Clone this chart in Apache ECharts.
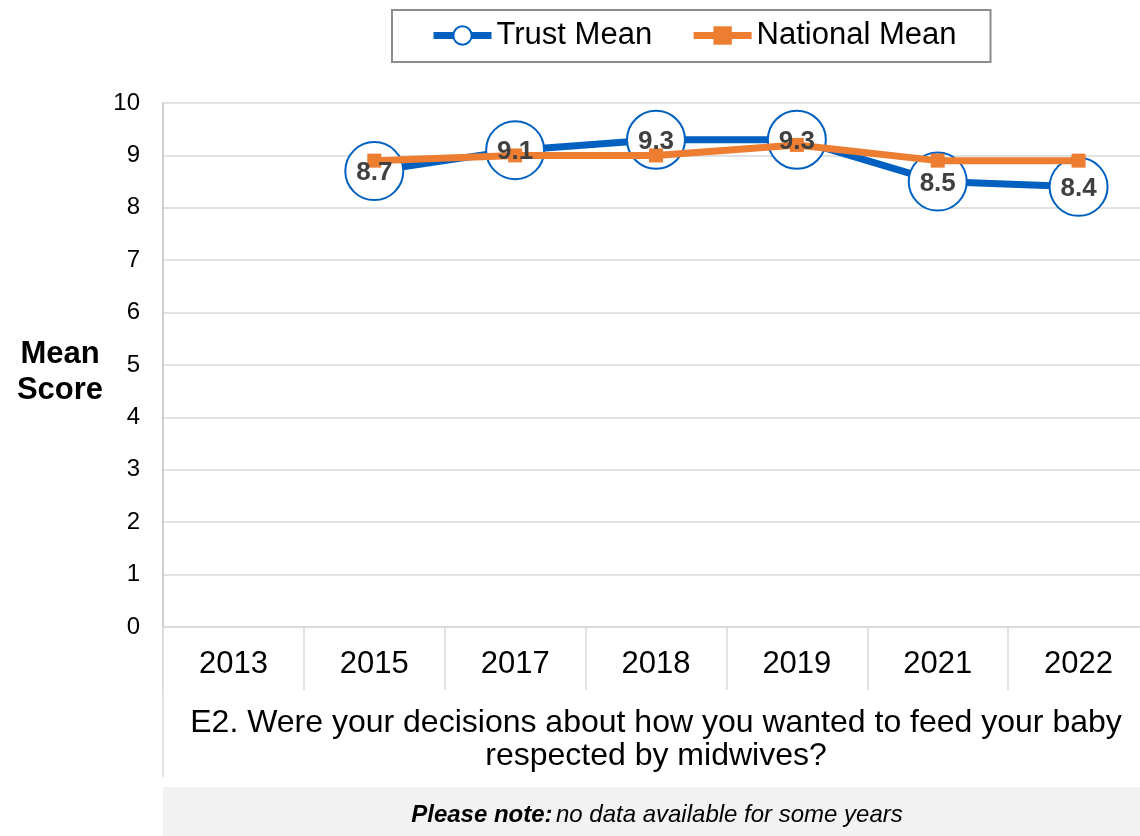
<!DOCTYPE html>
<html>
<head>
<meta charset="utf-8">
<script src="https://cdn.jsdelivr.net/npm/echarts@6/dist/echarts.min.js"></script>
<style>
  html, body { margin: 0; padding: 0; background: #fff; }
  #main { width: 1140px; height: 836px; }
</style>
</head>
<body>
<div id="main"></div>
<script>
// data
var years = ["2013", "2015", "2017", "2018", "2019", "2021", "2022"];
var trustMean = [null, 8.7, 9.1, 9.3, 9.3, 8.5, 8.4];
var nationalMean = [null, 8.9, 9.0, 9.0, 9.2, 8.9, 8.9];
var yTicks = [0, 10, 1]; // min, max, step

var font = "Liberation Sans, Arial, sans-serif";
var myChart = echarts.init(document.getElementById("main"));

var option = {
  backgroundColor: "#fff",
  textStyle: { fontFamily: font },
  animation: false,
  // plot area runs a little past the right edge of the picture
  grid: { left: 163, right: -9, top: 103, bottom: 209, containLabel: false, outerBoundsMode: "none" },
  legend: {
    data: ["Trust Mean", "National Mean"],
    left: 392,
    top: 10,
    padding: [10, 34, 11, 38],
    borderColor: "#8c8c8c",
    borderWidth: 2,
    itemWidth: 58,
    itemHeight: 23,
    itemGap: 38,
    lineStyle: { width: 7 },
    textStyle: { fontSize: 31, color: "#000", fontFamily: font, padding: [0, 0, 0, 0] }
  },
  xAxis: {
    type: "category",
    data: years,
    boundaryGap: true,
    axisLine: { show: true, lineStyle: { color: "#d9d9d9", width: 1.5 } },
    axisTick: { show: true, interval: 0, length: 63, lineStyle: { color: "#d9d9d9", width: 1.5 } },
    axisLabel: { fontSize: 31, color: "#000", margin: 22, interval: 0, fontFamily: font },
    name: "E2. Were your decisions about how you wanted to feed your baby\nrespected by midwives?",
    nameLocation: "middle",
    nameGap: 80,
    nameTextStyle: { fontSize: 32, color: "#000", lineHeight: 33, align: "center", fontFamily: font }
  },
  yAxis: {
    type: "value",
    min: yTicks[0],
    max: yTicks[1],
    interval: yTicks[2],
    axisLine: { show: true, lineStyle: { color: "#bfbfbf", width: 1.5 } },
    axisTick: { show: false },
    splitLine: { show: true, lineStyle: { color: "#d9d9d9", width: 1.5 } },
    axisLabel: { fontSize: 24, color: "#000", margin: 23, fontFamily: font }
  },
  graphic: [
    // extension of the left frame line below the axis
    { type: "line", shape: { x1: 163, y1: 627, x2: 163, y2: 777 }, style: { stroke: "#d9d9d9", lineWidth: 1.5 } },
    { type: "text", x: 60, y: 372,
      style: { text: "Mean\nScore", font: "bold 31px " + font, fill: "#000", align: "center", verticalAlign: "middle", lineHeight: 36 } },
    { type: "rect", shape: { x: 163, y: 787, width: 977, height: 49 }, style: { fill: "#f2f2f2" } },
    { type: "text", x: 657, y: 815,
      style: {
        text: "{b|Please note:} {i|no data available for some years}",
        align: "center", verticalAlign: "middle",
        rich: {
          b: { font: "italic bold 24px " + font, fill: "#000" },
          i: { font: "italic 24px " + font, fill: "#000" }
        }
      } }
  ],
  series: [
    {
      name: "Trust Mean",
      type: "line",
      data: trustMean,
      z: 2,
      symbol: "circle",
      symbolSize: 58,
      showAllSymbol: true,
      lineStyle: { color: "#0060c0", width: 7 },
      itemStyle: { color: "#fff", borderColor: "#0060c0", borderWidth: 2 },
      label: { show: false }
    },
    {
      name: "National Mean",
      type: "line",
      data: nationalMean,
      z: 3,
      symbol: "rect",
      symbolSize: 14,
      lineStyle: { color: "#ed7d31", width: 7 },
      itemStyle: { color: "#ed7d31" }
    },
    {
      // value labels drawn on top of both lines
      name: "labels",
      type: "scatter",
      data: trustMean,
      z: 5,
      silent: true,
      symbolSize: 1,
      itemStyle: { color: "transparent", opacity: 1 },
      label: {
        show: true,
        position: "inside",
        fontSize: 26,
        fontWeight: "bold",
        color: "#404040",
        fontFamily: font,
        offset: [0, 2],
        formatter: function (p) { return p.value.toFixed(1); }
      }
    }
  ]
};
myChart.setOption(option);
</script>
</body>
</html>
